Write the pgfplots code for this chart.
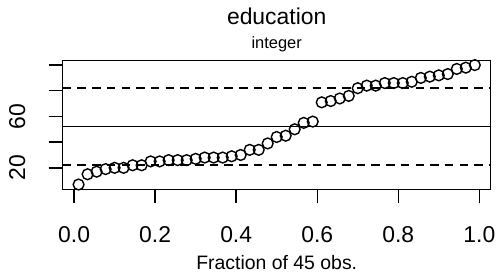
\documentclass[border=0pt]{standalone}
\usepackage{fontspec}
\setmainfont{Liberation Sans}
\usepackage{pgfplots}
\pgfplotsset{compat=1.18}
\begin{document}
\begin{tikzpicture}
\path[use as bounding box] (0bp,0bp) rectangle (498bp,-275bp);
\begin{axis}[
  at={(62.7bp,-189.3bp)}, anchor=south west,
  scale only axis, width=428bp, height=129bp,
  xmin=-0.0281, xmax=1.0281, ymin=3.28, ymax=103.72,
  axis line style={line width=1.4bp},
  every tick/.style={line width=1.4bp, black},
  tick align=outside, major tick length=14bp,
  xtick pos=left, ytick pos=left,
  xtick={0,0.2,0.4,0.6,0.8,1.0},
  xticklabels={0.0,0.2,0.4,0.6,0.8,1.0},
  ytick={20,40,60,80,100},
  yticklabels={20,,60,,},
  /pgf/number format/assume math mode=true,
  xticklabel style={font=\fontsize{23}{23}\selectfont, anchor=base, yshift=-39.4bp, inner sep=0pt},
  yticklabel style={font=\fontsize{23}{23}\selectfont, xshift=-23.7bp, rotate=90, anchor=base, inner sep=0pt},
  clip=false,
]
\addplot[black, line width=1.3bp] coordinates {(-0.0281,52.133) (1.0281,52.133)};
\addplot[black, line width=1.3bp, dash pattern=on 8.5bp off 6.2bp] coordinates {(-0.0281,82.10) (1.0281,82.10)};
\addplot[black, line width=1.3bp, dash pattern=on 8.5bp off 6.2bp] coordinates {(-0.0281,22.17) (1.0281,22.17)};
\addplot[only marks, mark=o, mark size=5.4bp, mark options={line width=1.4bp, black}] coordinates {
(0.0111,7) (0.0333,15) (0.0556,17) (0.0778,19) (0.1,20) (0.1222,20) (0.1444,22) (0.1667,22) (0.1889,25) (0.2111,25)
(0.2333,26) (0.2556,26) (0.2778,26) (0.3,27) (0.3222,28) (0.3444,28) (0.3667,28) (0.3889,29) (0.4111,30) (0.4333,34)
(0.4556,34) (0.4778,39) (0.5,44) (0.5222,45) (0.5444,50) (0.5667,55) (0.5889,56) (0.6111,71) (0.6333,72) (0.6556,74)
(0.6778,76) (0.7,82) (0.7222,84) (0.7444,84) (0.7667,86) (0.7889,86) (0.8111,86) (0.8333,87) (0.8556,90) (0.8778,91)
(0.9,92) (0.9222,93) (0.9444,97) (0.9667,98) (0.9889,100)
};
\node[anchor=base, inner sep=0pt, font=\fontsize{23}{23}\selectfont] at (axis description cs:0.5,1.274) {education};
\node[anchor=base, inner sep=0pt, font=\fontsize{16.5}{16.5}\selectfont] at (axis description cs:0.5,1.095) {integer};
\node[anchor=base, inner sep=0pt, font=\fontsize{19.5}{19.5}\selectfont] at (axis description cs:0.5,-0.618) {Fraction of 45 obs.};
\end{axis}
\end{tikzpicture}
\end{document}
